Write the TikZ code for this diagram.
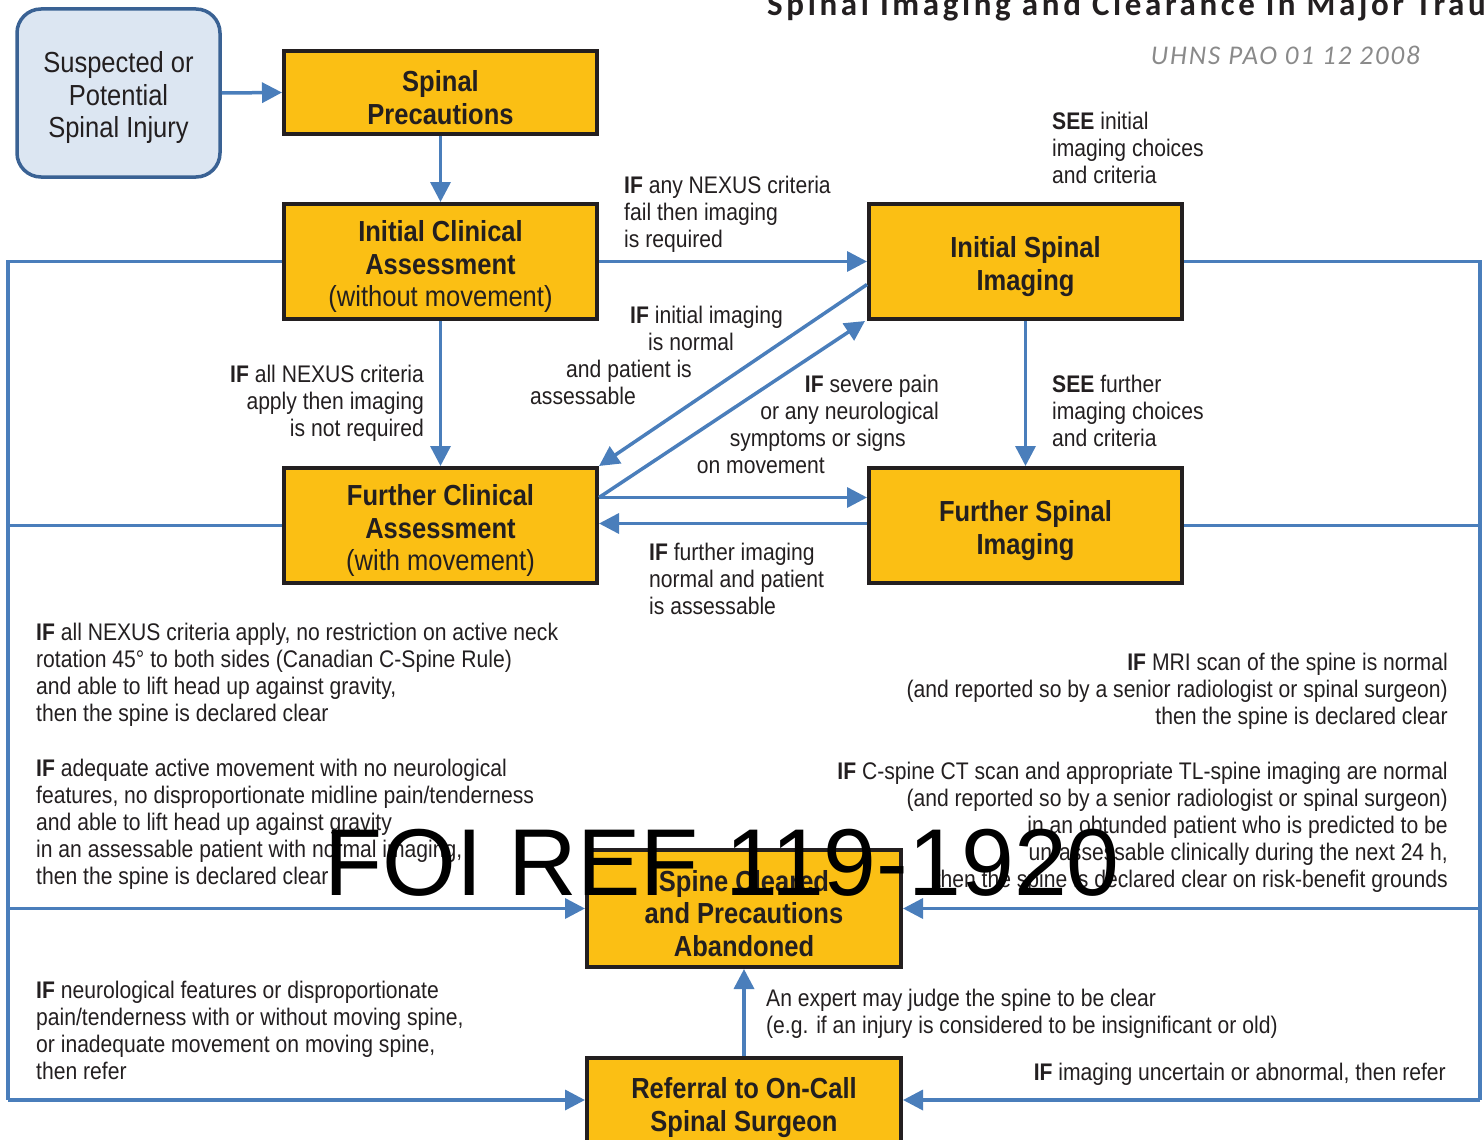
\documentclass[tikz,border=0pt]{standalone}
\usepackage{fontspec}
\setmainfont{Liberation Sans}[FakeStretch=0.88]
\newfontfamily\wmfont{Liberation Sans}
\newfontfamily\titlefont{Carlito}[LetterSpace=11]
\newfontfamily\subfont{Carlito}[LetterSpace=7]
\usetikzlibrary{arrows.meta,calc}
\definecolor{boxfill}{HTML}{FBBF14}
\definecolor{boxline}{HTML}{231F20}
\definecolor{flowblue}{HTML}{4A7EBB}
\definecolor{suspfill}{HTML}{DCE6F2}
\definecolor{suspline}{HTML}{3A6294}
\definecolor{textdark}{HTML}{231F20}
\definecolor{subgrey}{HTML}{8A8A8A}
% raises the first line of a box label so the text sits a little lower
\newcommand{\firstline}{\rule{0pt}{31pt}}
\begin{document}
\begin{tikzpicture}[x=1pt,y=-1pt,
  flow/.style={draw=flowblue, line width=3.5pt},
  arr/.style={flow, -{Triangle[length=20pt,width=20pt]}},
  box/.style={draw=boxline, line width=4pt, fill=boxfill, minimum width=313pt,
    minimum height=115pt, inner sep=0pt, align=center, text=textdark,
    font=\fontsize{29}{32.5}\selectfont},
  boxb/.style={box, font=\fontsize{29}{32.5}\selectfont\bfseries},
  note/.style={inner sep=0pt, text=textdark, font=\fontsize{24}{27}\selectfont},
  ]
\useasboundingbox (0,0) rectangle (1484,1140);
\clip (0,0) rectangle (1484,1140);

% heading
\node[anchor=base west, inner sep=0pt, text=textdark, font=\fontsize{33}{36}\selectfont\titlefont\bfseries]
  (title) at (767,16) {Spinal Imaging and Clearance in Major Trauma};
\node[anchor=base east, inner sep=0pt, text=subgrey, font=\fontsize{27}{30}\selectfont\subfont\itshape]
  (sub) at (1420,65) {UHNS PAO 01 12 2008};

% boxes
\node[box, rounded corners=24pt, draw=suspline, fill=suspfill, line width=3.5pt,
  minimum width=203pt, minimum height=168pt] (susp) at (118.5,93)
  {\firstline Suspected or\\Potential\\Spinal Injury};
\node[boxb, minimum height=83pt] (prec) at (440.5,92.5) {\firstline Spinal\\Precautions};
\node[box] (ica) at (440.5,261.5)
  {\firstline\textbf{Initial Clinical}\\\textbf{Assessment}\\(without movement)};
\node[boxb] (isi) at (1025.5,261.5) {\firstline Initial Spinal\\Imaging};
\node[box] (fca) at (440.5,525.5)
  {\firstline\textbf{Further Clinical}\\\textbf{Assessment}\\(with movement)};
\node[boxb] (fsi) at (1025.5,525.5) {\firstline Further Spinal\\Imaging};
\node[boxb, minimum width=314pt, minimum height=117pt] (clr) at (744,908.5)
  {\firstline Spine Cleared\\and Precautions\\Abandoned};
\node[boxb, minimum width=314pt, minimum height=92pt] (ref) at (744,1104)
  {\rule{0pt}{28pt}Referral to On-Call\\Spinal Surgeon};

% loop rails
\coordinate (ltop) at (8,261.5);
\coordinate (lbot) at (8,1100);
\coordinate (rtop) at (1480,261.5);
\coordinate (rbot) at (1480,1100);

% main flow
\draw[arr] (susp.east) -- (prec.west);
\draw[arr] (prec.south) -- (ica.north);
\draw[arr] (ica.east) -- (isi.west);
\draw[arr] (ica.south) -- (fca.north);
\draw[arr] (isi.south) -- (fsi.north);
\draw[arr] ([yshift=-23pt]isi.west) -- (fca.north east);
\draw[arr] ([yshift=28pt]fca.east) -- ([xshift=-2pt]isi.south west);
\draw[arr] ([yshift=28pt]fca.east) -- ([yshift=28pt]fsi.west);
\draw[arr] ([yshift=2pt]fsi.west) -- ([yshift=2pt]fca.east);
\draw[arr] (ref.north) -- (clr.south);

% left rail
\draw[flow] (ica.west) -- (ltop) -- (lbot);
\draw[flow] (fca.west) -- (fca.west -| ltop);
\draw[arr] (ltop |- clr.west) -- (clr.west);
\draw[arr] (lbot) -- (ref.west |- lbot);

% right rail
\draw[flow] (isi.east) -- (rtop) -- (rbot);
\draw[flow] (fsi.east) -- (fsi.east -| rtop);
\draw[arr] (rtop |- clr.east) -- (clr.east);
\draw[arr] (rbot) -- (ref.east |- rbot);

% conditions
\node[note, anchor=west, align=left] (n1) at (1052,148)
  {\textbf{SEE} initial\\imaging choices\\and criteria};
\node[note, anchor=west, align=left] (n2) at (624,214)
  {\textbf{IF} any NEXUS criteria\\fail then imaging\\is required};
\node[note, anchor=west, align=left] (n3) at (530,355.5)
  {\hspace*{100pt}\textbf{IF} initial imaging\\\hspace*{118pt}is normal\\\hspace*{36pt}and patient is\\assessable};
\node[note, anchor=east, align=right] (n4) at (939,424.5)
  {\textbf{IF} severe pain\\or any neurological\\symptoms or signs\rule{33pt}{0pt}\\on movement\rule{114pt}{0pt}};
\node[note, anchor=east, align=right] (n5) at (424,403)
  {\textbf{IF} all NEXUS criteria\\apply then imaging\\is not required};
\node[note, anchor=west, align=left] (n6) at (1052,411)
  {\textbf{SEE} further\\imaging choices\\and criteria};
\node[note, anchor=west, align=left] (n7) at (649,579)
  {\textbf{IF} further imaging\\normal and patient\\is assessable};
\node[note, anchor=west, align=left] (n8) at (36,674.5)
  {\textbf{IF} all NEXUS criteria apply, no restriction on active neck\\rotation 45° to both sides (Canadian C-Spine Rule)\\and able to lift head up against gravity,\\then the spine is declared clear};
\node[note, anchor=east, align=right] (n9) at (1448,691)
  {\textbf{IF} MRI scan of the spine is normal\\(and reported so by a senior radiologist or spinal surgeon)\\then the spine is declared clear};
\node[note, anchor=west, align=left] (n10) at (36,824.5)
  {\textbf{IF} adequate active movement with no neurological\\features, no disproportionate midline pain/tenderness\\and able to lift head up against gravity\\in an assessable patient with normal imaging,\\then the spine is declared clear};
\node[note, anchor=east, align=right] (n11) at (1448,827.5)
  {\textbf{IF} C-spine CT scan and appropriate TL-spine imaging are normal\\(and reported so by a senior radiologist or spinal surgeon)\\in an obtunded patient who is predicted to be\\un-assessable clinically during the next 24 h,\\then the spine is declared clear on risk-benefit grounds};
\node[note, anchor=west, align=left] (n12) at (36,1030)
  {\textbf{IF} neurological features or disproportionate\\pain/tenderness with or without moving spine,\\or inadequate movement on moving spine,\\then refer};
\node[note, anchor=west, align=left] (n13) at (766,1014)
  {An expert may judge the spine to be clear\\(e.g. if an injury is considered to be insignificant or old)};
\node[note, anchor=east] (n14) at (1446,1074)
  {\textbf{IF} imaging uncertain or abnormal, then refer};

% reference stamp
\node[anchor=base west, inner sep=0pt, text=black, font=\fontsize{95}{100}\selectfont\wmfont]
  (stamp) at (324,895) {FOI REF 119-1920};
\end{tikzpicture}
\end{document}
